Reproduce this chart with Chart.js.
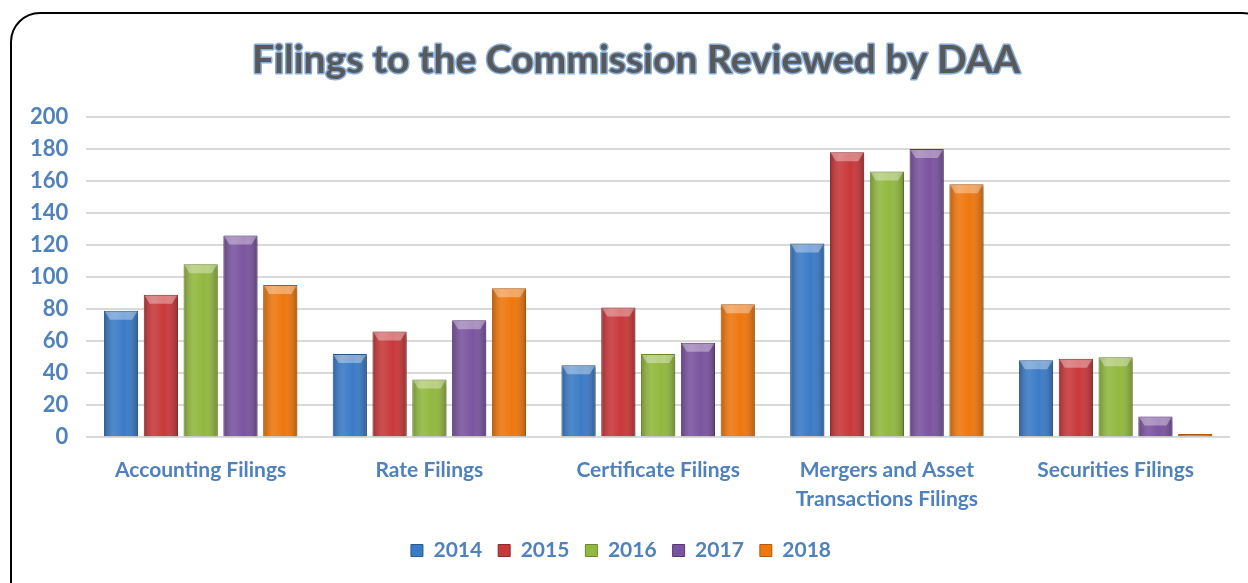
<!DOCTYPE html>
<html>
<head>
<meta charset="utf-8">
<script src="https://cdn.jsdelivr.net/npm/chart.js@4/dist/chart.umd.min.js"></script>
<style>
  html, body { margin: 0; padding: 0; background: #fff; overflow: hidden; }
  #wrap { position: relative; width: 1248px; height: 583px; }
  #frame {
    position: absolute; left: 10px; top: 12px; width: 1262px; height: 600px;
    border: 2px solid #000; border-radius: 30px; box-sizing: border-box;
  }
  canvas { position: absolute; left: 0; top: 0; }
</style>
</head>
<body>
<div id="wrap">
  <div id="frame"></div>
  <canvas id="chart" width="1248" height="583"></canvas>
</div>
<script>
const categories = [
  "Accounting Filings",
  "Rate Filings",
  "Certificate Filings",
  ["Mergers and Asset", "Transactions Filings"],
  "Securities Filings",
];
const years = ["2014", "2015", "2016", "2017", "2018"];
const filings2014 = [79, 52, 45, 121, 48];
const filings2015 = [89, 66, 81, 178, 49];
const filings2016 = [108, 36, 52, 166, 50];
const filings2017 = [126, 73, 59, 180, 13];
const filings2018 = [95, 93, 83, 158, 2];
const yMin = 0;
const yMax = 200;
const yStep = 20;

const fills = ["#3B7BC6", "#C8393B", "#92B840", "#7B549F", "#EE770E"];
const edges = ["#2A5A8F", "#8E2A2A", "#6B8A2E", "#57397A", "#B55A0A"];
const series = [filings2014, filings2015, filings2016, filings2017, filings2018];

const labelBlue = "#4F81BD";
const fontFamily = "Lato, 'Open Sans', sans-serif";

// title with blue outline, drawn on top of reserved padding
const titlePlugin = {
  id: "outlinedTitle",
  afterDraw(chart) {
    const ctx = chart.ctx;
    ctx.save();
    ctx.font = "bold 39px " + fontFamily;
    ctx.textAlign = "center";
    ctx.textBaseline = "middle";
    ctx.lineJoin = "round";
    ctx.lineWidth = 3;
    ctx.strokeStyle = "#86ACDA";
    ctx.strokeText("Filings to the Commission Reviewed by DAA", 636, 60);
    ctx.fillStyle = "#595959";
    ctx.fillText("Filings to the Commission Reviewed by DAA", 636, 60);
    ctx.restore();
  },
};

// shaded look on each bar: side shading and lighter bevel at the top
const bevelPlugin = {
  id: "bevel",
  beforeDatasetsDraw(chart) {
    const ctx = chart.ctx;
    ctx.save();
    ctx.shadowColor = "rgba(0,0,0,0.3)";
    ctx.shadowBlur = 5;
    ctx.shadowOffsetX = 2;
    ctx.shadowOffsetY = 2;
  },
  afterDatasetsDraw(chart) {
    const ctx = chart.ctx;
    ctx.restore();
    ctx.save();
    chart.data.datasets.forEach((ds, di) => {
      chart.getDatasetMeta(di).data.forEach((bar) => {
        const left = bar.x - bar.width / 2;
        const right = bar.x + bar.width / 2;
        const top = bar.y;
        const bottom = bar.base;
        const h = bottom - top;
        if (h <= 0) return;
        const g = ctx.createLinearGradient(left, 0, right, 0);
        g.addColorStop(0, "rgba(0,0,0,0.22)");
        g.addColorStop(0.3, "rgba(255,255,255,0.10)");
        g.addColorStop(0.6, "rgba(255,255,255,0)");
        g.addColorStop(1, "rgba(0,0,0,0.25)");
        ctx.fillStyle = g;
        ctx.fillRect(left + 1, top + 1, bar.width - 2, h - 1);
        const bev = Math.min(9, h / 2);
        ctx.beginPath();
        ctx.moveTo(left + 1, top + 1);
        ctx.lineTo(right - 1, top + 1);
        ctx.lineTo(right - 6, top + bev);
        ctx.lineTo(left + 6, top + bev);
        ctx.closePath();
        ctx.fillStyle = "rgba(255,255,255,0.35)";
        ctx.fill();
      });
    });
    ctx.restore();
  },
};

new Chart(document.getElementById("chart").getContext("2d"), {
  type: "bar",
  data: {
    labels: categories,
    datasets: years.map((y, i) => ({
      label: y,
      data: series[i],
      backgroundColor: fills[i],
      borderColor: edges[i],
      borderWidth: 1,
      categoryPercentage: 0.87,
      barPercentage: 0.86,
    })),
  },
  options: {
    responsive: false,
    animation: false,
    layout: { padding: { top: 117, left: 12, right: 18, bottom: 12 } },
    plugins: {
      title: { display: false },
      tooltip: { enabled: false },
      legend: {
        position: "bottom",
        labels: {
          color: labelBlue,
          font: { family: fontFamily, size: 21, weight: "bold" },
          boxWidth: 12,
          boxHeight: 12,
          padding: 16,
        },
      },
    },
    scales: {
      x: {
        grid: { display: false },
        border: { display: false },
        ticks: {
          color: labelBlue,
          font: { family: fontFamily, size: 21, weight: "bold", lineHeight: 1.4 },
          maxRotation: 0,
          padding: 10,
        },
      },
      y: {
        min: yMin,
        max: yMax,
        ticks: {
          stepSize: yStep,
          color: labelBlue,
          font: { family: fontFamily, size: 22, weight: "bold" },
          padding: 18,
        },
        grid: { color: "#D9D9D9", lineWidth: 2, drawTicks: false },
        border: { display: false },
      },
    },
  },
  plugins: [bevelPlugin, titlePlugin],
});
</script>
</body>
</html>
